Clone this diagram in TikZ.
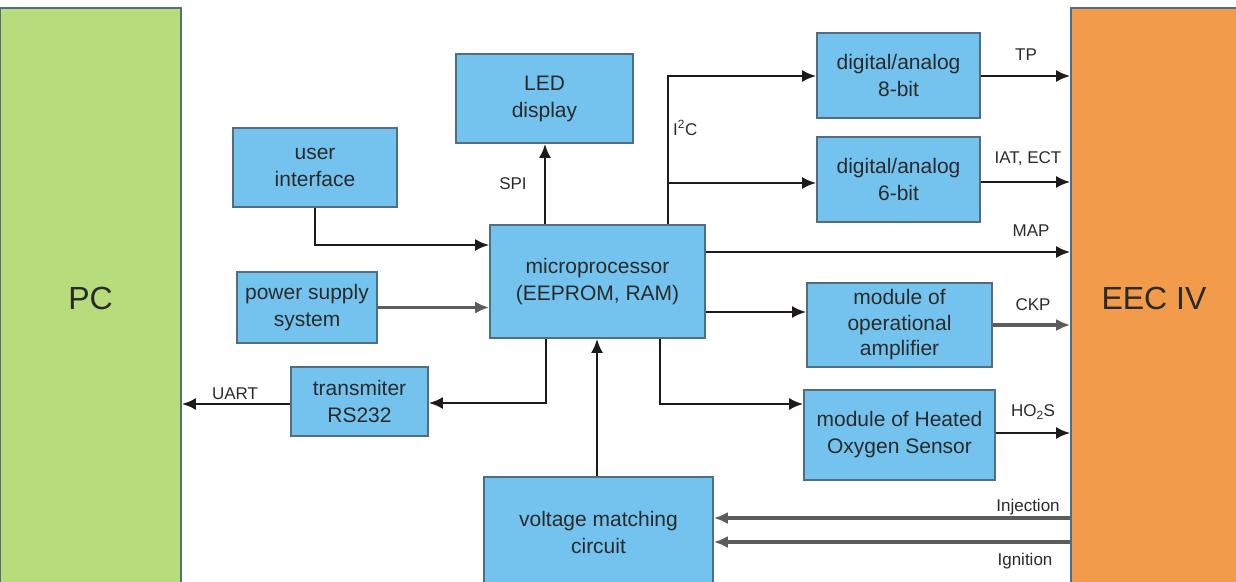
\documentclass[tikz,border=0pt]{standalone}
\usepackage{fontspec}
\setmainfont{Liberation Sans}
\usetikzlibrary{arrows.meta,calc}
\definecolor{boxblue}{HTML}{74C3EE}
\definecolor{boxedge}{HTML}{4F6E82}
\definecolor{pcgreen}{HTML}{B6DC7B}
\definecolor{eecorange}{HTML}{F29B4B}
\definecolor{linedark}{HTML}{1E1A1A}
\definecolor{linegray}{HTML}{5E5B5B}
\definecolor{txt}{HTML}{2A2A2A}
\tikzset{
  blk/.style={draw=boxedge, fill=boxblue, line width=1.6pt, inner sep=0pt, align=center, font=\fontsize{21}{27}\selectfont, text=txt},
  big/.style={draw=boxedge, line width=1.6pt, inner sep=0pt, font=\fontsize{32}{36}\selectfont, text=txt},
  con/.style={draw=linedark, line width=2.6pt, -{Latex[length=14pt,width=12pt]}},
  cong/.style={draw=linegray, line width=3.4pt, -{Latex[length=14pt,width=12pt]}},
  lbl/.style={font=\fontsize{17}{20}\selectfont, text=txt, inner sep=1pt}
}
\begin{document}
\begin{tikzpicture}[x=1pt,y=-1pt]
\useasboundingbox (0,0) rectangle (1236,581);
% big blocks
\node[big, fill=pcgreen, minimum width=181pt, minimum height=580pt] (pc) at (90.5,298) {PC};
\node[big, fill=eecorange, minimum width=166pt, minimum height=580pt] (eec) at (1154,298) {EEC IV};
% blocks
\node[blk, minimum width=177pt, minimum height=89pt] (led) at (544.5,98.5) {LED\\display};
\node[blk, minimum width=164pt, minimum height=79pt] (ui) at (315,167.5) {user\\interface};
\node[blk, minimum width=140pt, minimum height=71pt] (ps) at (307,307.5) {power supply\\system};
\node[blk, minimum width=215pt, minimum height=113pt] (mp) at (597.5,281.5) {microprocessor\\(EEPROM, RAM)};
\node[blk, minimum width=137pt, minimum height=69pt] (tx) at (359.5,401.5) {transmiter\\RS232};
\node[blk, minimum width=229pt, minimum height=110pt] (vm) at (598.5,532) {voltage matching\\circuit};
\node[blk, minimum width=163pt, minimum height=85pt] (da8) at (898.5,75.5) {digital/analog\\8-bit};
\node[blk, minimum width=163pt, minimum height=85pt] (da6) at (898.5,179.5) {digital/analog\\6-bit};
\node[blk, minimum width=185pt, minimum height=84pt, font=\fontsize{21}{25.5}\selectfont] (oa) at (899.5,325) {module of\\operational\\amplifier};
\node[blk, minimum width=191pt, minimum height=90pt] (ho) at (899.5,435) {module of Heated\\Oxygen Sensor};
% connectors
\draw[con] (ui.south) |- (mp.west |- 0,245);
\draw[cong] (ps.east) -- (mp.west |- ps.east);
\draw[con] (mp.north -| 545,0) -- (led.south -| 545,0);
\node[lbl] at (513,184) {SPI};
\draw[con] (mp.north -| 668,0) |- (da8.west |- 0,76);
\draw[con] (668,183) -- (da6.west |- 0,183);
\node[lbl, anchor=west] at (672,128) {I\textsuperscript{2}C};
\draw[con] (mp.east |- 0,252) -- (eec.west |- 0,252);
\node[lbl] at (1031,231) {MAP};
\draw[con] (mp.east |- 0,312) -- (oa.west |- 0,312);
\draw[con] (mp.south -| 660,0) |- (ho.west |- 0,404);
\draw[con] (mp.south -| 546,0) |- (tx.east |- 0,403);
\draw[con] (tx.west |- 0,404) -- (pc.east |- 0,404);
\node[lbl] at (235,394) {UART};
\draw[con] (vm.north -| 597,0) -- (mp.south -| 597,0);
\draw[con] (da8.east |- 0,76) -- (eec.west |- 0,76);
\node[lbl] at (1026,55) {TP};
\draw[con] (da6.east |- 0,182) -- (eec.west |- 0,182);
\node[lbl] at (1028,159) {IAT, ECT};
\draw[cong] (oa.east |- 0,325) -- (eec.west |- 0,325);
\node[lbl] at (1033,305) {CKP};
\draw[con] (ho.east |- 0,433) -- (eec.west |- 0,433);
\node[lbl] at (1033,412) {HO\textsubscript{2}S};
\draw[cong] (eec.west |- 0,518) -- (vm.east |- 0,518);
\node[lbl] at (1028,507) {Injection};
\draw[cong] (eec.west |- 0,542) -- (vm.east |- 0,542);
\node[lbl] at (1025,561) {Ignition};
\end{tikzpicture}
\end{document}
